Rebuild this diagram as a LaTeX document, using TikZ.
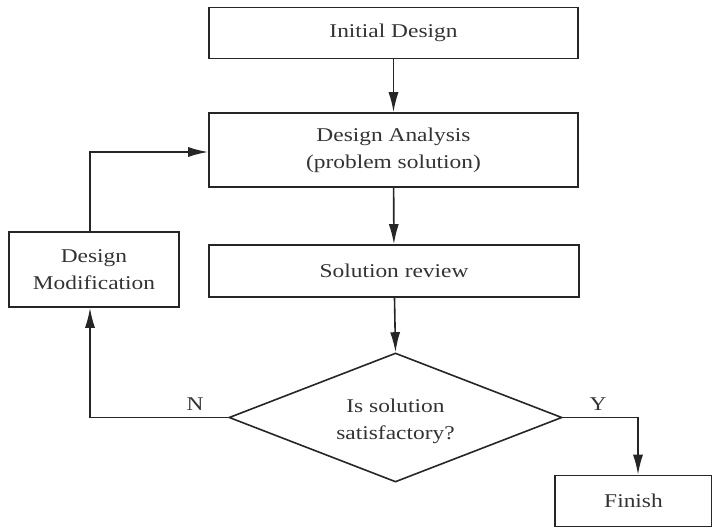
\documentclass[tikz,border=0pt]{standalone}
\usepackage{fontspec}
\setmainfont{Liberation Serif}[FakeStretch=1.2]
\usetikzlibrary{arrows.meta,shapes.geometric}
\begin{document}
\begin{tikzpicture}[x=1pt,y=-1pt,
  txt/.style={align=center,font=\fontsize{19.5}{27}\selectfont,text=black!80},
  box/.style={txt,draw=black!85,line width=1.6pt,inner sep=0pt},
  lbl/.style={font=\fontsize{19.5}{22}\selectfont,text=black!80},
  conn/.style={line width=1.6pt,draw=black!85,-{Latex[length=20pt,width=10pt]}}]
\useasboundingbox (0,0) rectangle (712,528);
\node[box,minimum width=369pt,minimum height=51pt] (init) at (393.5,33) {Initial Design};
\node[box,minimum width=369pt,minimum height=74pt] (ana) at (393.5,150) {Design Analysis\\(problem solution)};
\node[box,minimum width=370pt,minimum height=52pt] (rev) at (394,271) {Solution review};
\node[box,minimum width=170pt,minimum height=75pt] (mod) at (94,269.5) {Design\\Modification};
\node[box,diamond,aspect=2.58,minimum width=333pt,minimum height=129pt] (dec) at (395.5,417.5) {};
\node[txt] (dect) at (395.5,421) {Is solution\\satisfactory?};
\node[box,minimum width=157pt,minimum height=51pt] (fin) at (633.5,501) {Finish};
\draw[conn] (init) -- (ana);
\draw[conn] (ana) -- (rev);
\draw[conn] (rev) -- (dec.north);
\draw[conn] (dec.west) -| (mod.south -| 90,0);
\draw[conn] (mod.north -| 90,0) |- (ana.west |- 0,152);
\draw[conn] (dec.east) -| (fin.north -| 638,0);
\node[lbl] (n) at (195,404) {N};
\node[lbl] (y) at (598,404) {Y};
\end{tikzpicture}
\end{document}
